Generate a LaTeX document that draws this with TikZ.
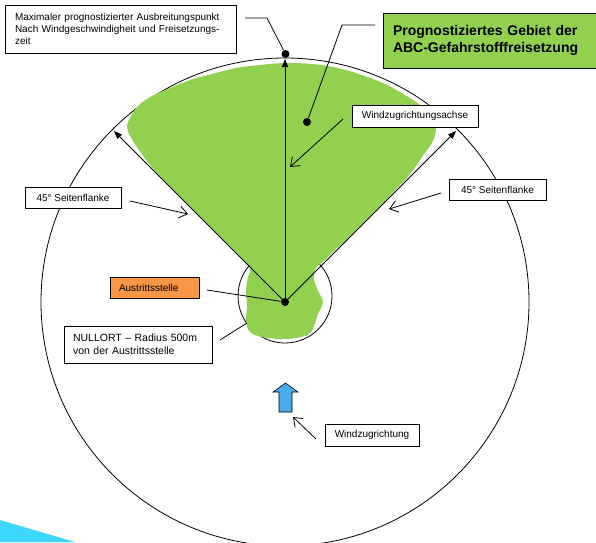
\documentclass[tikz,border=0pt]{standalone}
\usepackage{fontspec}
\setmainfont{Liberation Sans}
\usepackage{tikz}
\usetikzlibrary{arrows.meta,positioning,calc}
\tikzset{
  every picture/.append style={line width=0.8pt},
  every node/.append style={font=\fontsize{10}{12}\selectfont},
}
\tikzset{
  infobox/.style={draw, fill=white, inner sep=0pt, minimum height=21pt, align=center},
  pointer/.style={-{Straight Barb[length=8pt,width=12pt]}},
  flank/.style={-{Triangle[length=8pt,width=6pt]}},
  marker/.style={circle, fill=black, inner sep=0pt, minimum size=8pt}
}

\begin{document}
\begin{tikzpicture}[x=1pt, y=-1pt]
\definecolor{zonegreen}{RGB}{146,208,80}
\definecolor{srcorange}{RGB}{247,150,70}
\definecolor{windblue}{RGB}{74,172,234}
\definecolor{swooshcyan}{RGB}{60,214,255}

\useasboundingbox (0,0) rectangle (596,542);
\fill[swooshcyan] (0,520) -- (75,542) -- (0,542) -- cycle;

\coordinate (src) at (285,302);
\draw (src) circle[radius=244pt];
\draw (285,296) circle[radius=47pt];

% predicted area
\fill[zonegreen] plot[smooth cycle, tension=0.55] coordinates {
  (128,122) (138,106) (152,96) (170,88) (190,80) (212,74) (236,68) (260,65)
  (285,63) (312,64) (338,68) (362,75) (385,84) (405,95) (420,105) (430,116)
  (436,127) (433,141) (424,154) (416,166) (406,179) (397,188) (386,200)
  (376,210) (366,220) (355,231) (345,241) (334,251) (326,259) (316,268)
  (314,279) (318,291) (323,302) (318,314) (314,326) (309,334) (296,338)
  (280,339) (262,337) (250,332) (246,321) (247,306) (246,290) (248,277)
  (250,268) (240,256) (228,244) (215,231) (200,216) (187,203) (172,188)
  (161,177) (150,165) (141,153) (133,141) (128,131)};

\coordinate (lefttip) at (114,131);
\coordinate (righttip) at (456,131);
\coordinate (axistip) at (285,59);
\draw[flank] (src) -- (lefttip);
\draw[flank] (src) -- (righttip);
\draw[flank] (src) -- (axistip);
\node[marker] (maxdot) at (285.5,54) {};
\node[marker] (srcdot) at (src) {};
\node[marker] (areadot) at (307,122) {};

\node[infobox, text width=211pt, inner xsep=10pt, minimum height=48pt, align=left] (maxbox) at (120.5,29)
  {Maximaler prognostizierter Ausbreitungspunkt\\Nach Windgeschwindigheit und Freisetzungs-\\zeit};
\node[infobox, fill=zonegreen, text width=200pt, inner xsep=10pt, minimum height=55pt, align=left,
  font=\fontsize{14}{17}\selectfont\bfseries] (areabox) at (493,40.5)
  {Prognostiziertes Gebiet der\\ABC-Gefahrstofffreisetzung};
\node[infobox, minimum width=126pt, minimum height=22pt] (axisbox) at (415,116) {Windzugrichtungsachse};
\node[infobox, minimum width=96pt] (flankleft) at (73,197.5) {45° Seitenflanke};
\node[infobox, minimum width=97pt] (flankright) at (497.5,189.5) {45° Seitenflanke};
\node[infobox, fill=srcorange, text width=71pt, inner xsep=9pt, align=left] (srcbox) at (154.5,287.5) {Austrittsstelle};
\node[infobox, text width=130pt, inner xsep=9pt, minimum height=37pt, align=left,
  font=\fontsize{10.5}{13}\selectfont] (zerobox) at (138,344.5)
  {NULLORT -- Radius 500m\\von der Austrittsstelle};
\node[infobox, minimum width=94pt, minimum height=22pt] (windbox) at (372,435) {Windzugrichtung};

% wind direction arrow
\filldraw[fill=windblue, line width=0.6pt] (279,412) -- (279,392) -- (273,392) -- (285.5,383)
  -- (298,392) -- (292,392) -- (292,412) -- cycle;
\coordinate (windarrow) at (293,417);

\coordinate (maxstart) at (245,18);
\coordinate (areastart) at (375,25);
\coordinate (axisfrom) at (343,119);
\coordinate (axisto) at (290,167);
\coordinate (leftfrom) at (130,201);
\coordinate (leftto) at (188,214);
\coordinate (rightfrom) at (441,193);
\coordinate (rightto) at (389,209);
\coordinate (srcfrom) at (207,290);
\coordinate (zerofrom) at (220,340);
\coordinate (zeroto) at (247,323);
\coordinate (windfrom) at (316,439);

\draw (maxstart) -- ++(22,0) -- (maxdot);
\draw (areastart) -- ++(-33,0) -- (areadot);
\draw[pointer] (axisfrom) -- (axisto);
\draw[pointer] (leftfrom) -- (leftto);
\draw[pointer] (rightfrom) -- (rightto);
\draw (srcfrom) -- (srcdot);
\draw (zerofrom) -- (zeroto);
\draw[pointer] (windfrom) -- (windarrow);
\end{tikzpicture}
\end{document}
